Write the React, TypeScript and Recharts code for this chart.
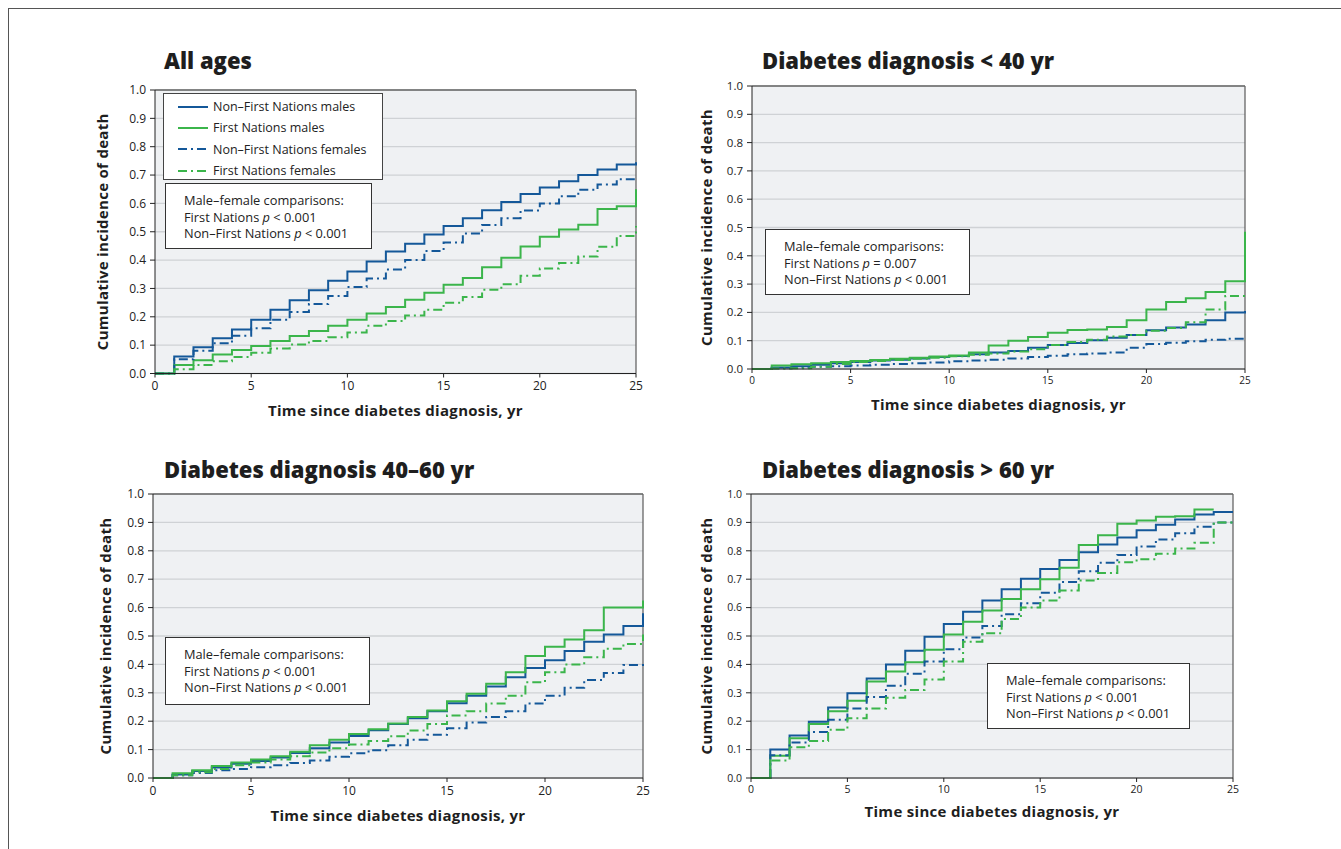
import { CartesianGrid, Label, Legend, Line, LineChart, ReferenceLine, XAxis, YAxis } from "recharts";

const BLUE = "#145899";
const GREEN = "#3bb54b";
const FONT = "'Open Sans', 'Noto Sans', sans-serif";

const YEARS = [0, 1, 2, 3, 4, 5, 6, 7, 8, 9, 10, 11, 12, 13, 14, 15, 16, 17, 18, 19, 20, 21, 22, 23, 24, 25];
const X_TICKS = [0, 5, 10, 15, 20, 25];
const Y_TICKS = [0, 0.1, 0.2, 0.3, 0.4, 0.5, 0.6, 0.7, 0.8, 0.9, 1.0];

// value at index i = level over [i, i+1); last index = level at year 25
const ALL_NFN_M = [0, 0.06, 0.093, 0.124, 0.155, 0.19, 0.225, 0.258, 0.294, 0.327, 0.36, 0.395, 0.43, 0.458, 0.49, 0.52, 0.548, 0.576, 0.605, 0.633, 0.656, 0.678, 0.7, 0.72, 0.737, 0.745];
const ALL_FN_M = [0, 0.03, 0.047, 0.067, 0.083, 0.097, 0.115, 0.132, 0.15, 0.168, 0.19, 0.212, 0.235, 0.26, 0.285, 0.313, 0.337, 0.375, 0.408, 0.448, 0.482, 0.508, 0.525, 0.58, 0.59, 0.65];
const ALL_NFN_F = [0, 0.05, 0.08, 0.107, 0.133, 0.16, 0.19, 0.217, 0.245, 0.273, 0.305, 0.335, 0.367, 0.4, 0.432, 0.462, 0.494, 0.524, 0.548, 0.575, 0.6, 0.625, 0.648, 0.667, 0.685, 0.69];
const ALL_FN_F = [0, 0.015, 0.03, 0.043, 0.058, 0.073, 0.088, 0.102, 0.115, 0.128, 0.145, 0.168, 0.185, 0.205, 0.225, 0.25, 0.27, 0.295, 0.315, 0.345, 0.37, 0.39, 0.413, 0.447, 0.485, 0.52];

const U40_NFN_M = [0, 0.005, 0.01, 0.015, 0.02, 0.025, 0.03, 0.033, 0.037, 0.042, 0.046, 0.052, 0.058, 0.064, 0.075, 0.085, 0.092, 0.102, 0.11, 0.12, 0.137, 0.147, 0.157, 0.172, 0.2, 0.205];
const U40_FN_M = [0, 0.012, 0.017, 0.02, 0.025, 0.028, 0.032, 0.036, 0.04, 0.044, 0.048, 0.058, 0.083, 0.1, 0.113, 0.128, 0.138, 0.14, 0.148, 0.172, 0.21, 0.237, 0.25, 0.272, 0.31, 0.485];
const U40_NFN_F = [0, 0.003, 0.005, 0.008, 0.01, 0.012, 0.015, 0.018, 0.02, 0.023, 0.027, 0.03, 0.033, 0.037, 0.042, 0.047, 0.052, 0.055, 0.058, 0.075, 0.088, 0.093, 0.098, 0.103, 0.107, 0.107];
const U40_FN_F = [0, 0.002, 0.003, 0.008, 0.018, 0.025, 0.028, 0.032, 0.036, 0.04, 0.045, 0.05, 0.055, 0.062, 0.07, 0.085, 0.095, 0.103, 0.115, 0.12, 0.135, 0.145, 0.165, 0.21, 0.258, 0.258];

const MID_NFN_M = [0, 0.012, 0.025, 0.037, 0.05, 0.06, 0.072, 0.088, 0.105, 0.125, 0.148, 0.168, 0.19, 0.21, 0.235, 0.263, 0.29, 0.322, 0.355, 0.387, 0.415, 0.447, 0.48, 0.505, 0.535, 0.58];
const MID_FN_M = [0, 0.017, 0.027, 0.042, 0.055, 0.065, 0.077, 0.092, 0.115, 0.135, 0.155, 0.172, 0.192, 0.215, 0.238, 0.27, 0.297, 0.332, 0.372, 0.43, 0.462, 0.488, 0.52, 0.6, 0.6, 0.625];
const MID_NFN_F = [0, 0.01, 0.018, 0.027, 0.032, 0.038, 0.045, 0.053, 0.062, 0.075, 0.087, 0.098, 0.115, 0.135, 0.152, 0.175, 0.195, 0.215, 0.235, 0.262, 0.29, 0.318, 0.345, 0.37, 0.398, 0.41];
const MID_FN_F = [0, 0.01, 0.02, 0.032, 0.045, 0.055, 0.065, 0.077, 0.09, 0.105, 0.118, 0.13, 0.147, 0.167, 0.19, 0.22, 0.235, 0.262, 0.29, 0.337, 0.372, 0.4, 0.425, 0.455, 0.472, 0.505];

const O60_NFN_M = [0, 0.1, 0.15, 0.198, 0.248, 0.298, 0.35, 0.4, 0.448, 0.497, 0.542, 0.585, 0.625, 0.665, 0.702, 0.736, 0.768, 0.795, 0.822, 0.847, 0.872, 0.892, 0.91, 0.928, 0.937, 0.937];
const O60_FN_M = [0, 0.078, 0.14, 0.19, 0.235, 0.272, 0.34, 0.375, 0.408, 0.452, 0.505, 0.55, 0.59, 0.63, 0.665, 0.7, 0.74, 0.82, 0.855, 0.895, 0.907, 0.92, 0.922, 0.945, 0.945, null];
const O60_NFN_F = [0, 0.08, 0.125, 0.162, 0.205, 0.245, 0.285, 0.325, 0.367, 0.41, 0.453, 0.495, 0.535, 0.577, 0.615, 0.652, 0.69, 0.728, 0.758, 0.785, 0.815, 0.84, 0.862, 0.885, 0.9, 0.9];
const O60_FN_F = [0, 0.062, 0.108, 0.13, 0.17, 0.21, 0.245, 0.283, 0.31, 0.347, 0.41, 0.48, 0.51, 0.56, 0.6, 0.625, 0.66, 0.695, 0.722, 0.76, 0.77, 0.79, 0.808, 0.828, 0.9, 0.9];

const SERIES = [
  { key: "nfnM", name: "Non–First Nations males", color: BLUE, dash: undefined },
  { key: "fnM", name: "First Nations males", color: GREEN, dash: undefined },
  { key: "nfnF", name: "Non–First Nations females", color: BLUE, dash: "9 4 2 4" },
  { key: "fnF", name: "First Nations females", color: GREEN, dash: "9 4 2 4" },
];

type PanelCfg = {
  title: string;
  titleX: number; titleY: number;
  l: number; t: number; r: number; b: number;
  values: (number | null)[][];
  fnP: string;
  note: { x: number; y: number; w: number; h: number };
  legend?: boolean;
  tickY: number; tickX: number;
  yLabelGap: number; xLabelGap: number;
};

const PANELS: PanelCfg[] = [
  {
    title: "All ages", titleX: 164, titleY: 60, l: 155, t: 89.5, r: 636, b: 373,
    values: [ALL_NFN_M, ALL_FN_M, ALL_NFN_F, ALL_FN_F], fnP: "< 0.001",
    note: { x: 165, y: 183, w: 207, h: 66 }, legend: true,
    tickY: 12, tickX: 12, yLabelGap: 52, xLabelGap: 37,
  },
  {
    title: "Diabetes diagnosis < 40 yr", titleX: 762, titleY: 60, l: 752, t: 86, r: 1245, b: 369,
    values: [U40_NFN_M, U40_FN_M, U40_NFN_F, U40_FN_F], fnP: "= 0.007",
    note: { x: 765, y: 229, w: 205, h: 66 },
    tickY: 11.5, tickX: 10, yLabelGap: 45, xLabelGap: 36,
  },
  {
    title: "Diabetes diagnosis 40–60 yr", titleX: 164, titleY: 469, l: 153, t: 494, r: 643, b: 778,
    values: [MID_NFN_M, MID_FN_M, MID_NFN_F, MID_FN_F], fnP: "< 0.001",
    note: { x: 165, y: 637, w: 205, h: 68 },
    tickY: 12, tickX: 12, yLabelGap: 47, xLabelGap: 38,
  },
  {
    title: "Diabetes diagnosis > 60 yr", titleX: 762, titleY: 469, l: 751, t: 494, r: 1233, b: 778,
    values: [O60_NFN_M, O60_FN_M, O60_NFN_F, O60_FN_F], fnP: "< 0.001",
    note: { x: 987, y: 663, w: 203, h: 66 },
    tickY: 10.5, tickX: 10.5, yLabelGap: 44, xLabelGap: 34,
  },
];

const AXL = 75;
const PADT = 10;
const PADR = 15;
const AXB = 55;

const AXIS_TITLE = { fontFamily: FONT, fontWeight: 700, fontSize: 15, letterSpacing: 0.3, fill: "#1e1e1e" };

function LegendBox() {
  return (
    <div style={{ width: 220, height: 87, boxSizing: "border-box", border: "1px solid #444", background: "#fff", padding: "2px 0 0 14px", fontFamily: FONT, fontSize: 12.5, color: "#222" }}>
      {SERIES.map((s) => (
        <div key={s.key} style={{ display: "flex", alignItems: "center", height: 21.3 }}>
          <svg width={32} height={6} style={{ marginRight: 3 }}>
            <line x1={0} y1={3} x2={30} y2={3} stroke={s.color} strokeWidth={2} strokeDasharray={s.dash} />
          </svg>
          <span>{s.name}</span>
        </div>
      ))}
    </div>
  );
}

function Panel({ p }: { p: PanelCfg }) {
  const w = p.r - p.l;
  const h = p.b - p.t;
  const left = p.l - AXL;
  const top = p.t - PADT;
  const data = YEARS.map((t, i) => {
    const row: Record<string, number | null> = { t };
    SERIES.forEach((s, k) => { row[s.key] = p.values[k][i]; });
    return row;
  });
  const noteLines = ["Male–female comparisons:", `First Nations |${p.fnP}`, "Non–First Nations |< 0.001"];
  return (
    <>
      <div style={{ position: "absolute", left: p.titleX, top: p.titleY - 14, fontFamily: FONT, fontWeight: 800, fontSize: 22, lineHeight: "28px", color: "#1e1e1e" }}>
        {p.title}
      </div>
      <div style={{ position: "absolute", left, top }}>
        <LineChart width={w + AXL + PADR} height={h + PADT + AXB} data={data} margin={{ top: PADT, right: PADR, left: 0, bottom: 0 }}>
          <CartesianGrid vertical={false} fill="#eff1f3" stroke="#cfd2d5" strokeWidth={1.3} />
          <XAxis
            dataKey="t" type="number" domain={[0, 25]} ticks={X_TICKS} height={AXB}
            tick={{ fontSize: p.tickX, fill: "#222", fontFamily: FONT }} tickSize={4} tickMargin={4}
            stroke="#222" interval={0}
          >
            <Label value="Time since diabetes diagnosis, yr" position="center" dy={p.xLabelGap - AXB / 2} style={AXIS_TITLE} />
          </XAxis>
          <YAxis
            type="number" domain={[0, 1]} ticks={Y_TICKS} width={AXL} interval={0}
            tickFormatter={(v: number) => v.toFixed(1)}
            tick={{ fontSize: p.tickY, fill: "#222", fontFamily: FONT }} tickSize={5} tickMargin={4}
            stroke="#222"
          >
            <Label value="Cumulative incidence of death" angle={-90} position="center" dx={AXL / 2 - p.yLabelGap}
              style={{ ...AXIS_TITLE, textAnchor: "middle" }} />
          </YAxis>
          <ReferenceLine y={1} stroke="#666" strokeWidth={1.3} />
          <ReferenceLine x={25} stroke="#666" strokeWidth={1.3} />
          {SERIES.map((s) => (
            <Line key={s.key} type="stepAfter" dataKey={s.key} name={s.name} stroke={s.color} strokeWidth={2}
              strokeDasharray={s.dash} dot={false} activeDot={false} isAnimationActive={false} connectNulls={false} />
          ))}
          {p.legend && (
            <Legend layout="vertical" align="center" verticalAlign="middle" content={() => <LegendBox />}
              wrapperStyle={{ left: 163 - left, top: 93 - top, width: 220 }} />
          )}
        </LineChart>
      </div>
      <div style={{ position: "absolute", left: p.note.x, top: p.note.y, width: p.note.w, height: p.note.h, boxSizing: "border-box", border: "1px solid #333", background: "#fff", padding: "8px 0 0 18px", fontFamily: FONT, fontSize: 12.8, lineHeight: "16.5px", color: "#222" }}>
        {noteLines.map((ln) => {
          const [a, b] = ln.split("|");
          return (
            <div key={ln}>
              {a}
              {b !== undefined && (<><i>p</i> {b}</>)}
            </div>
          );
        })}
      </div>
    </>
  );
}

export default function App() {
  return (
    <div style={{ position: "absolute", left: 0, top: 0, width: 1341, height: 849, overflow: "hidden", background: "#fff" }}>
      <div style={{ position: "absolute", left: 8, top: 8, width: 1340, height: 850, border: "1px solid #555" }} />
      {PANELS.map((p) => (
        <Panel key={p.title} p={p} />
      ))}
    </div>
  );
}
